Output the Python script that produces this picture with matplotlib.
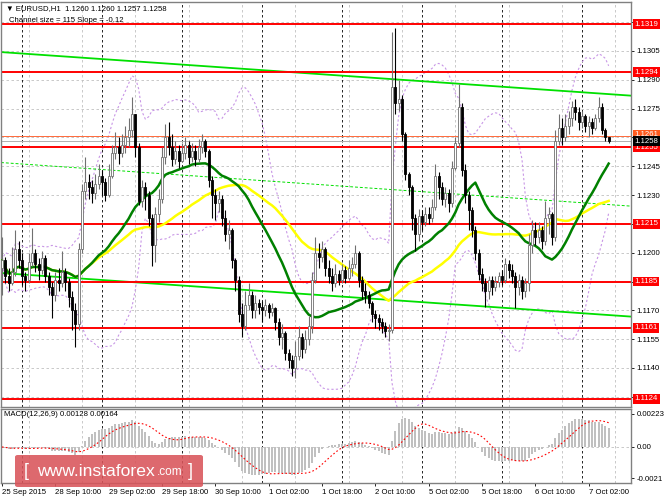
import numpy as np
import pandas as pd
import matplotlib
matplotlib.use('Agg')
import matplotlib.pyplot as plt
from matplotlib.patches import FancyBboxPatch

# EURUSD H1, 25 Sep 2015 18:00 -> 7 Oct 2015 08:00, prices in pips above 1.1100
base = 1.1100
first_open = 92
close_p = [96, 88, 84, 90, 102, 96, 88, 86, 95, 100, 94, 91, 97, 88, 82, 78, 86, 84, 90, 85,
           77, 70, 63, 102, 132, 137, 134, 131, 136, 140, 137, 130, 140, 152, 155, 152, 156, 160, 164, 172,
           155, 127, 134, 130, 118, 104, 120, 128, 150, 160, 155, 149, 153, 148, 152, 156, 150, 153, 149, 155,
           158, 153, 138, 130, 126, 128, 118, 110, 112, 96, 86, 68, 62, 73, 78, 70, 74, 72, 70, 73,
           69, 71, 64, 56, 58, 48, 44, 40, 46, 56, 50, 55, 62, 86, 100, 98, 102, 92, 88, 84,
           89, 86, 91, 87, 92, 94, 100, 86, 80, 78, 74, 68, 66, 64, 62, 59, 60, 186, 178, 180,
           162, 141, 134, 118, 110, 119, 116, 120, 118, 124, 140, 134, 128, 131, 126, 144, 157, 176, 143, 130,
           122, 112, 100, 89, 84, 80, 86, 82, 85, 88, 86, 94, 91, 88, 82, 86, 80, 84, 104, 112,
           108, 112, 106, 118, 120, 108, 158, 165, 160, 166, 170, 176, 173, 168, 171, 166, 168, 165, 170, 176,
           164, 160, 158]
high_p = [108, 98, 92, 103, 112, 106, 100, 90, 100, 113, 102, 97, 101, 99, 90, 85, 90, 92, 101, 92,
          87, 80, 74, 105, 136, 150, 141, 138, 141, 146, 143, 139, 146, 156, 163, 160, 162, 166, 170, 181,
          172, 157, 138, 137, 132, 120, 124, 133, 155, 167, 168, 162, 158, 156, 157, 160, 158, 157, 156, 159,
          162, 159, 154, 140, 133, 132, 130, 122, 117, 113, 97, 88, 74, 80, 84, 80, 78, 76, 75, 76,
          74, 74, 72, 66, 63, 59, 50, 47, 54, 62, 58, 60, 67, 90, 108, 105, 106, 103, 96, 92,
          94, 91, 94, 93, 96, 98, 104, 101, 88, 84, 80, 75, 70, 68, 66, 64, 63, 215, 217, 190,
          182, 163, 142, 135, 120, 123, 122, 124, 124, 128, 146, 142, 137, 134, 133, 148, 160, 188, 178, 146,
          132, 124, 114, 102, 92, 87, 88, 88, 88, 90, 91, 97, 96, 94, 90, 89, 88, 87, 110, 117,
          116, 116, 114, 127, 124, 121, 164, 172, 170, 172, 174, 179, 180, 176, 174, 172, 171, 170, 172, 181,
          178, 165, 160]
low_p = [78, 84, 80, 83, 88, 92, 83, 80, 84, 93, 90, 86, 89, 85, 78, 66, 75, 80, 82, 80,
         72, 60, 51, 60, 100, 128, 128, 126, 128, 133, 130, 127, 129, 139, 149, 146, 150, 152, 155, 160,
         150, 125, 124, 122, 114, 93, 95, 116, 126, 146, 151, 145, 146, 144, 147, 149, 146, 147, 145, 147,
         152, 150, 134, 118, 117, 121, 114, 106, 102, 92, 80, 64, 56, 60, 70, 66, 66, 68, 64, 67,
         66, 67, 60, 52, 50, 44, 40, 36, 35, 44, 45, 48, 52, 58, 84, 92, 95, 88, 84, 80,
         82, 83, 84, 84, 86, 88, 92, 82, 76, 74, 71, 64, 61, 60, 58, 56, 54, 58, 172, 174,
         158, 138, 130, 112, 101, 106, 112, 114, 115, 116, 122, 128, 125, 124, 121, 124, 143, 155, 140, 126,
         112, 108, 96, 86, 80, 72, 76, 78, 80, 82, 83, 84, 87, 84, 71, 78, 76, 77, 80, 100,
         104, 105, 102, 104, 110, 104, 106, 156, 156, 158, 162, 166, 169, 164, 165, 163, 160, 162, 164, 168,
         162, 158, 157]

levels = [1.1319, 1.1294, 1.1255, 1.1215, 1.1185, 1.1161, 1.1124]
ask_line = 1.1261
bid_line = 1.1258

# channel: upper line at bar 0, slope in pips per bar, width in pips
chan_start = 1.13044
chan_slope = -0.12
chan_size = 115

price_ticks = [1.1125, 1.1140, 1.1155, 1.1170, 1.1185, 1.1200, 1.1215, 1.1230, 1.1245,
               1.1260, 1.1275, 1.1290, 1.1305, 1.1320]
# tick labels that sit under a level box are not printed
hidden_ticks = [1.1125, 1.1185, 1.1215, 1.1260, 1.1320]
time_labels = ['25 Sep 2015', '28 Sep 10:00', '29 Sep 02:00', '29 Sep 18:00', '30 Sep 10:00',
               '1 Oct 02:00', '1 Oct 18:00', '2 Oct 10:00', '5 Oct 02:00', '5 Oct 18:00',
               '6 Oct 10:00', '7 Oct 02:00']
day_starts = [6, 30, 54, 78, 102, 126, 150, 174]
macd_text = 'MACD(12,26,9) 0.00128 0.00164'

close = base + np.array(close_p) / 1e4
high = base + np.array(high_p) / 1e4
low = base + np.array(low_p) / 1e4
opens = np.concatenate([[base + first_open / 1e4], close[:-1]])
n = len(close)
idx = np.arange(n)

s = pd.Series(close)
ma_fast = s.rolling(26, min_periods=1).mean()
ma_slow = s.rolling(50, min_periods=1).mean()
bb_mid = s.rolling(20, min_periods=1).mean()
bb_sd = s.rolling(20, min_periods=2).std(ddof=0).fillna(0)
ema12 = s.ewm(span=12, adjust=False).mean()
ema26 = s.ewm(span=26, adjust=False).mean()
macd = ema12 - ema26
signal = macd.rolling(9, min_periods=1).mean()

font = 'Liberation Sans'
fs = 5.6
plt.rcParams['font.family'] = [font, 'DejaVu Sans']

W, H = 664, 498
fig = plt.figure(figsize=(W / 100, H / 100), dpi=100)
ax = fig.add_axes([1 / W, 1 - 407 / H, 630 / W, 405 / H])
axm = fig.add_axes([1 / W, 1 - 483 / H, 630 / W, 74 / H])

xl = (-0.3, 188.7)
for a in (ax, axm):
    a.set_xlim(*xl)
    for sp in a.spines.values():
        sp.set_color('#808080')
        sp.set_linewidth(1.0)
    a.yaxis.tick_right()
    a.tick_params(axis='y', length=2.5, width=0.6, pad=1.5, labelsize=fs, colors='black')
    a.tick_params(axis='x', length=2.5, width=0.6, pad=1.5, labelsize=fs)
    for gx in range(8, 189, 16):
        a.axvline(gx, color='#c0c0c0', lw=0.6, ls=(0, (3, 3)), zorder=0)
    for d in day_starts:
        a.axvline(d, color='black', lw=0.6, ls=(0, (3, 3)), zorder=0.5)

ax.set_ylim(1.11197, 1.13305)
ax.set_yticks(price_ticks)
ax.set_yticklabels(['' if p in hidden_ticks else f'{p:.4f}' for p in price_ticks])
ax.set_xticks([])
for p in price_ticks:
    ax.axhline(p, color='#c0c0c0', lw=0.6, ls=(0, (3, 3)), zorder=0)

# bollinger bands
ax.plot(idx, bb_mid + 2 * bb_sd, color='#c896e6', lw=0.8, ls=(0, (2, 2)), zorder=1)
ax.plot(idx, bb_mid - 2 * bb_sd, color='#c896e6', lw=0.8, ls=(0, (2, 2)), zorder=1)

# channel
x0, x1 = xl
up0 = chan_start + chan_slope * x0 / 1e4
up1 = chan_start + chan_slope * x1 / 1e4
ax.plot([x0, x1], [up0, up1], color='#00e000', lw=1.3, zorder=2)
ax.plot([x0, x1], [up0 - chan_size / 1e4, up1 - chan_size / 1e4], color='#00e000', lw=1.3, zorder=2)
ax.plot([x0, x1], [up0 - chan_size / 2e4, up1 - chan_size / 2e4], color='#00e000', lw=0.7,
        ls=(0, (3, 2)), zorder=2)

# levels
for lv in levels:
    ax.axhline(lv, color='#ff0000', lw=1.4, zorder=2)
ax.axhline(ask_line, color='#ff6a3a', lw=0.7, zorder=2)
ax.axhline(bid_line, color='#b0b0b0', lw=0.7, zorder=2)

# moving averages
ax.plot(idx, ma_slow, color='#ffff00', lw=1.8, zorder=3)
ax.plot(idx, ma_fast, color='#008000', lw=1.8, zorder=3)

# candles
upc = close >= opens
ax.vlines(idx[upc], low[upc], high[upc], color='#707070', lw=0.8, zorder=4)
ax.vlines(idx[~upc], low[~upc], high[~upc], color='black', lw=0.8, zorder=4)
ax.bar(idx[upc], (close - opens)[upc], bottom=opens[upc], width=0.6, color='white',
       edgecolor='#707070', lw=0.6, zorder=5)
ax.bar(idx[~upc], (opens - close)[~upc], bottom=close[~upc], width=0.6, color='black',
       edgecolor='black', lw=0.6, zorder=5)

# right-side price boxes
ytr = ax.get_yaxis_transform()
def box(y, txt, fc):
    ax.text(1.006, y, txt, transform=ytr, ha='left', va='center', fontsize=fs, color='white',
            clip_on=False, zorder=20,
            bbox=dict(boxstyle='square,pad=0.18', fc=fc, ec='none'))
for lv in levels:
    box(lv, f'{lv:.4f}', '#ff0000')
box(ask_line + 0.00004, '1.1261', '#ff5a1e')
box(bid_line, '1.1258', 'black')

ax.text(5 / 630, 1 - 7 / 405, '\u25bc EURUSD,H1  1.1260 1.1260 1.1257 1.1258', transform=ax.transAxes,
        fontsize=fs, va='center', ha='left', family=[font, 'DejaVu Sans'])
ax.text(8 / 630, 1 - 19 / 405, 'Channel size = 115 Slope = -0.12', transform=ax.transAxes,
        fontsize=fs, va='center', ha='left')

# MACD
axm.set_ylim(-0.00243, 0.00256)
axm.bar(idx, macd, width=0.55, color='#c0c0c0', zorder=2)
axm.plot(idx, signal, color='#ff0000', lw=0.8, ls=(0, (1.5, 2)), zorder=3)
axm.axhline(0, color='#c0c0c0', lw=0.6, ls=(0, (3, 3)), zorder=0)
axm.set_yticks([0.00223, 0.0, -0.0021])
axm.set_yticklabels(['0.00223', '0.00', '-0.0021'])
axm.set_xticks(range(0, 177, 16))
axm.set_xticklabels(time_labels, ha='left')
axm.text(3 / 630, 1 - 6 / 74, macd_text, transform=axm.transAxes, fontsize=fs,
         va='center', ha='left')

# watermark
fig.patches.append(FancyBboxPatch((15 / W, 1 - 487 / H), 188 / W, 32 / H,
                                  boxstyle='round,pad=0,rounding_size=0.004',
                                  transform=fig.transFigure, fc='#d9545a', ec='none',
                                  alpha=0.88, zorder=30))
fig.text(24 / W, 1 - 471 / H, '[', color='white', fontsize=13, va='center', ha='left', zorder=31)
fig.text(37 / W, 1 - 471 / H, 'www.instaforex', color='white', fontsize=12.6, va='center',
         ha='left', zorder=31)
fig.text(157 / W, 1 - 472 / H, '.com', color='white', fontsize=8.5, va='center', ha='left', zorder=31)
fig.text(188 / W, 1 - 471 / H, ']', color='white', fontsize=13, va='center', ha='left', zorder=31)

fig.savefig('out.png', dpi=100)
